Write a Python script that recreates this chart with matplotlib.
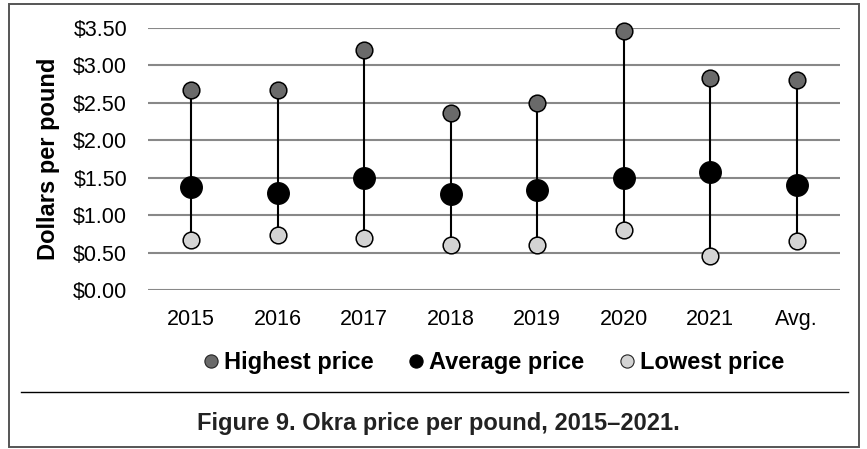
import matplotlib
matplotlib.use("Agg")
import matplotlib.pyplot as plt
from matplotlib.lines import Line2D
from matplotlib.patches import Rectangle
import matplotlib.ticker as mticker

# ── DATA ──────────────────────────────────────────────────────────────────────
categories = ["2015", "2016", "2017", "2018", "2019", "2020", "2021", "Avg."]
highest = [2.67, 2.67, 3.20, 2.36, 2.50, 3.46, 2.83, 2.81]
average = [1.37, 1.29, 1.49, 1.28, 1.33, 1.49, 1.57, 1.40]
lowest = [0.67, 0.73, 0.70, 0.60, 0.60, 0.80, 0.46, 0.66]
y_ticks = [0.0, 0.5, 1.0, 1.5, 2.0, 2.5, 3.0, 3.5]

# ── STYLE ─────────────────────────────────────────────────────────────────────
HIGH_COLOR = "#6a6a6a"
LOW_COLOR = "#d4d4d4"
AVG_COLOR = "black"
GRID_COLOR = "#888888"
FONT = "Liberation Sans"

W, H, DPI = 867, 449, 100
plt.rcParams["font.family"] = [FONT, "DejaVu Sans"]

fig = plt.figure(figsize=(W / DPI, H / DPI), dpi=DPI)


def fx(px):
    return px / W


def fy(py):
    return 1 - py / H


ax = fig.add_axes([fx(148), fy(290), fx(840) - fx(148), fy(28) - fy(290)])

x = list(range(len(categories)))

ax.vlines(x, lowest, highest, color="black", linewidth=1.5, zorder=3)
ax.plot(x, highest, linestyle="none", marker="o", markersize=12,
        markerfacecolor=HIGH_COLOR, markeredgecolor="black",
        markeredgewidth=1.1, zorder=4, clip_on=False)
ax.plot(x, lowest, linestyle="none", marker="o", markersize=12,
        markerfacecolor=LOW_COLOR, markeredgecolor="black",
        markeredgewidth=1.1, zorder=4, clip_on=False)
ax.plot(x, average, linestyle="none", marker="o", markersize=15.5,
        markerfacecolor=AVG_COLOR, markeredgecolor="black",
        markeredgewidth=1.0, zorder=5, clip_on=False)

ax.set_xlim(-0.5, len(categories) - 0.5)
ax.set_ylim(0, 3.5)
ax.set_xticks(x)
ax.set_xticklabels(categories)
ax.set_yticks(y_ticks)
ax.yaxis.set_major_formatter(mticker.StrMethodFormatter("${x:.2f}"))
ax.tick_params(axis="both", length=0, labelsize=15.5)
ax.tick_params(axis="x", pad=14)
ax.tick_params(axis="y", pad=15)
ax.grid(axis="y", color=GRID_COLOR, linewidth=1.5, zorder=0)
ax.set_axisbelow(True)
for s in ax.spines.values():
    s.set_visible(False)

fig.text(fx(48.8), fy(159), "Dollars per pound", rotation=90, ha="center",
         va="center", fontsize=17, fontweight="bold")

# legend
handles = [
    Line2D([], [], linestyle="none", marker="o", markersize=9.5,
           markerfacecolor=HIGH_COLOR, markeredgecolor="#222222",
           markeredgewidth=0.8, label="Highest price"),
    Line2D([], [], linestyle="none", marker="o", markersize=9.5,
           markerfacecolor=AVG_COLOR, markeredgecolor="black",
           markeredgewidth=0.8, label="Average price"),
    Line2D([], [], linestyle="none", marker="o", markersize=9.5,
           markerfacecolor=LOW_COLOR, markeredgecolor="#222222",
           markeredgewidth=0.8, label="Lowest price"),
]
fig.legend(handles=handles, loc="center", ncol=3, frameon=False,
           bbox_to_anchor=(fx(494.5), fy(363)),
           prop={"family": FONT, "weight": "bold", "size": 17},
           handlelength=0.5, handletextpad=0.3, columnspacing=1.55,
           borderpad=0)

# divider and caption
fig.add_artist(Line2D([fx(21), fx(848)], [fy(392), fy(392)],
                      color="black", linewidth=1.0))
fig.text(fx(438.5), fy(430), "Figure 9. Okra price per pound, 2015\u20132021.",
         ha="center", va="baseline", fontsize=17, fontweight="bold",
         color="#222222")

# outer frame
fig.add_artist(Rectangle((fx(9), fy(447)), fx(859) - fx(9), fy(4) - fy(447),
                         fill=False, edgecolor="#555555", linewidth=1.4))

fig.savefig("out.png", dpi=DPI)
